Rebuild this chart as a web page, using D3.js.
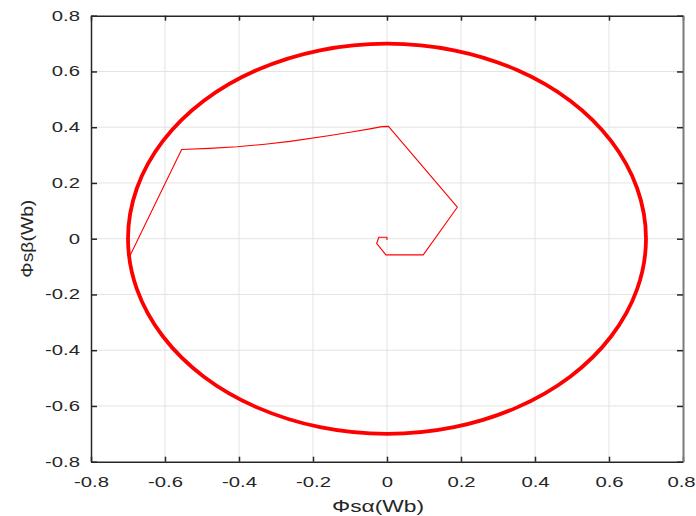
<!DOCTYPE html>
<html>
<head>
<meta charset="utf-8">
<script src="https://cdn.jsdelivr.net/npm/d3@7"></script>
<style>
  html, body { margin: 0; padding: 0; background: #fff; }
  svg { display: block; }
  text { font-family: "Liberation Sans", Arial, Helvetica, sans-serif; fill: #262626; }
</style>
</head>
<body>
<svg id="chart" width="696" height="516"></svg>
<script>
// Axis ticks
const xTicks = [-0.8, -0.6, -0.4, -0.2, 0, 0.2, 0.4, 0.6, 0.8];
const xTickLabels = ["-0.8", "-0.6", "-0.4", "-0.2", "0", "0.2", "0.4", "0.6", "0.8"];
const yTicks = [-0.8, -0.6, -0.4, -0.2, 0, 0.2, 0.4, 0.6, 0.8];
const yTickLabels = ["-0.8", "-0.6", "-0.4", "-0.2", "0", "0.2", "0.4", "0.6", "0.8"];

// Start-up transient of the stator flux vector [Φsα, Φsβ]
const transientAlpha = [0.000, 0.000, -0.022, -0.028, -0.003, 0.098, 0.190, 0.004, -0.014, -0.046, -0.100, -0.154, -0.262, -0.330, -0.405, -0.480, -0.555, -0.695];
const transientBeta  = [-0.005, 0.005, 0.005, -0.017, -0.058, -0.058, 0.113, 0.403, 0.402, 0.394, 0.382, 0.370, 0.349, 0.339, 0.330, 0.324, 0.320, -0.062];

// Steady-state flux circle (|Φs| ≈ 0.7 Wb), points every 15°
const circleAlpha = [0.700, 0.676, 0.606, 0.495, 0.350, 0.181, 0.000, -0.181, -0.350, -0.495, -0.606, -0.676, -0.700, -0.676, -0.606, -0.495, -0.350, -0.181, 0.000, 0.181, 0.350, 0.495, 0.606, 0.676];
const circleBeta  = [0.000, 0.181, 0.350, 0.495, 0.606, 0.676, 0.700, 0.676, 0.606, 0.495, 0.350, 0.181, 0.000, -0.181, -0.350, -0.495, -0.606, -0.676, -0.700, -0.676, -0.606, -0.495, -0.350, -0.181];

const W = 696, H = 516;
const margin = { left: 91, right: 13, top: 15.7, bottom: 54.3 };
const pw = W - margin.left - margin.right;
const ph = H - margin.top - margin.bottom;
const labelStretch = 1.45; // wide tick-label lettering

const svg = d3.select("#chart");
const g = svg.append("g").attr("transform", `translate(${margin.left},${margin.top})`);

const x = d3.scaleLinear().domain([-0.8, 0.8]).range([0, pw]);
const y = d3.scaleLinear().domain([-0.8, 0.8]).range([ph, 0]);

// Grid
g.append("g").selectAll("line").data(xTicks.slice(1, -1)).join("line")
  .attr("x1", d => x(d)).attr("x2", d => x(d))
  .attr("y1", 0).attr("y2", ph)
  .attr("stroke", "#e3e3e3").attr("stroke-width", 1);
g.append("g").selectAll("line").data(yTicks.slice(1, -1)).join("line")
  .attr("y1", d => y(d)).attr("y2", d => y(d))
  .attr("x1", 0).attr("x2", pw)
  .attr("stroke", "#e3e3e3").attr("stroke-width", 1);

// Data lines
svg.append("defs").append("clipPath").attr("id", "plotclip")
  .append("rect").attr("width", pw).attr("height", ph);
const dataG = g.append("g").attr("clip-path", "url(#plotclip)");

const circlePts = circleAlpha.map((a, i) => [a, circleBeta[i]]);
dataG.append("path")
  .attr("d", d3.line().x(d => x(d[0])).y(d => y(d[1])).curve(d3.curveCardinalClosed.tension(0))(circlePts))
  .attr("fill", "none").attr("stroke", "#ff0000").attr("stroke-width", 3.8);

const transPts = transientAlpha.map((a, i) => [a, transientBeta[i]]);
dataG.append("path")
  .attr("d", d3.line().x(d => x(d[0])).y(d => y(d[1]))(transPts))
  .attr("fill", "none").attr("stroke", "#ff0000").attr("stroke-width", 1.1)
  .attr("stroke-linejoin", "round");

// Axes (ticks pointing inward on all four sides)
const axisColor = "#262626";
const fmtX = d => xTickLabels[xTicks.indexOf(d)];
const fmtY = d => yTickLabels[yTicks.indexOf(d)];

const xBottom = g.append("g").attr("transform", `translate(0,${ph})`)
  .call(d3.axisBottom(x).tickValues(xTicks).tickFormat(fmtX).tickSizeInner(-5).tickSizeOuter(0).tickPadding(15));
const yLeft = g.append("g")
  .call(d3.axisLeft(y).tickValues(yTicks).tickFormat(fmtY).tickSizeInner(-6).tickSizeOuter(0).tickPadding(11));
const xTop = g.append("g")
  .call(d3.axisTop(x).tickValues(xTicks).tickFormat("").tickSizeInner(-5).tickSizeOuter(0));
const yRight = g.append("g").attr("transform", `translate(${pw},0)`)
  .call(d3.axisRight(y).tickValues(yTicks).tickFormat("").tickSizeInner(-6).tickSizeOuter(0));

[xBottom, yLeft, xTop].forEach(a => {
  a.select(".domain").attr("stroke", axisColor).attr("stroke-width", 1.5);
  a.selectAll(".tick line").attr("stroke", axisColor).attr("stroke-width", 1.5);
});
yRight.select(".domain").attr("stroke", "#7a7a7a").attr("stroke-width", 2);
yRight.selectAll(".tick line").attr("stroke", axisColor).attr("stroke-width", 1.5);

[xBottom, yLeft].forEach(a => {
  a.selectAll(".tick text").attr("font-size", 14).attr("fill", axisColor)
    .attr("font-family", "'Liberation Sans', Arial, Helvetica, sans-serif");
});
// last x label sits flush against the right edge of the figure
xBottom.selectAll(".tick text")
  .attr("x", (d, i) => i === xTicks.length - 1 ? -2 / labelStretch : 0)
  .attr("transform", `scale(${labelStretch},1)`);
yLeft.selectAll(".tick text")
  .attr("x", -11 / labelStretch)
  .attr("transform", `scale(${labelStretch},1)`);

// Axis titles
svg.append("text")
  .attr("x", 378).attr("y", 512)
  .attr("text-anchor", "middle").attr("font-size", 16)
  .attr("textLength", 92).attr("lengthAdjust", "spacingAndGlyphs")
  .text("Φsα(Wb)");
svg.append("text")
  .attr("transform", `translate(33,${margin.top + ph / 2}) rotate(-90)`)
  .attr("text-anchor", "middle").attr("font-size", 16)
  .attr("textLength", 78).attr("lengthAdjust", "spacingAndGlyphs")
  .text("Φsβ(Wb)");
</script>
</body>
</html>
